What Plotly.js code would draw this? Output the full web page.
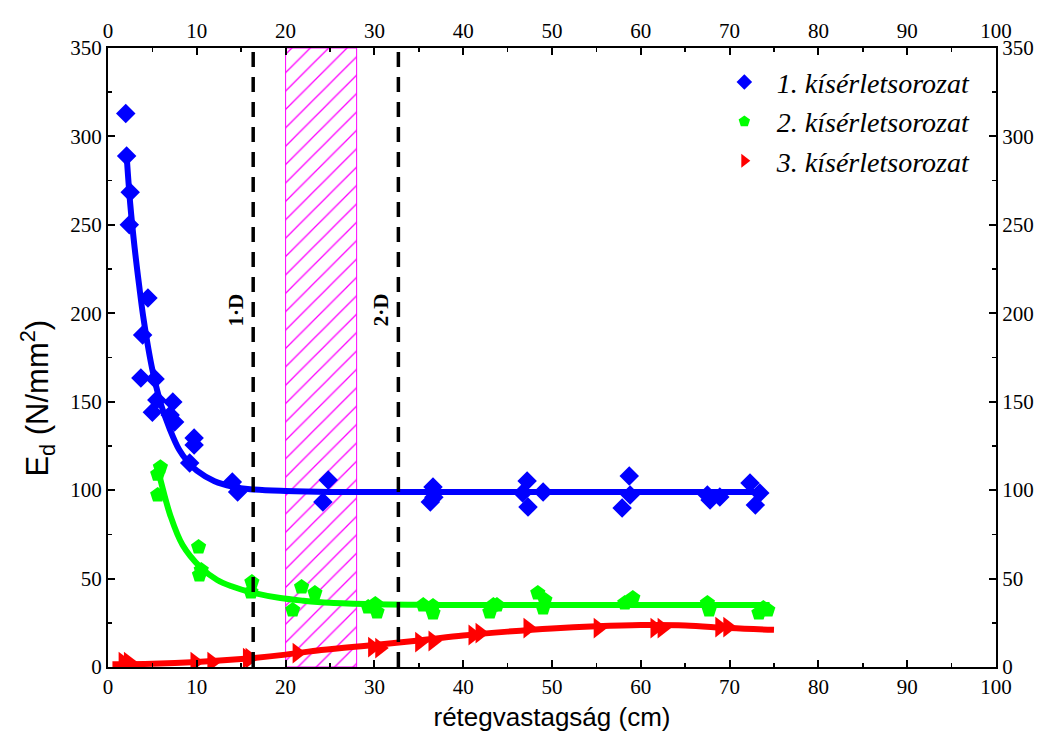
<!DOCTYPE html>
<html>
<head>
<meta charset="utf-8">
<script src="https://cdn.plot.ly/plotly-3.0.1.min.js"></script>
<style>html,body{margin:0;padding:0;background:#fff;}#chart{width:1050px;height:738px;}</style>
</head>
<body>
<div id="chart"></div>
<script>
// Series 1 (blue diamonds)
const s1x = [2.0,2.1,2.5,2.4,4.5,3.9,3.7,5.3,5.5,7.3,5.0,7.0,7.5,9.7,9.7,9.2,14.0,14.6,24.8,24.2,36.6,36.3,36.7,47.2,46.7,49.0,47.3,58.7,58.8,57.9,67.5,67.8,68.9,72.3,73.4,72.9];
const s1y = [313,289,268.5,250,208.6,187.7,163.4,162.8,150.9,149.8,144.1,142.5,138.5,129.5,125.5,115.3,104.6,98.9,105.7,93.3,101.8,93.3,96,105.1,98.4,98.9,90.4,108.0,97.2,89.9,97.2,94.4,96.1,104.0,98.4,91.6];
// Series 2 (green pentagons)
const s2x = [5.9,5.6,5.6,10.2,10.3,10.5,16.2,16.1,21.8,23.3,20.8,29.3,30.1,30.3,35.5,36.6,36.6,43.4,43.0,43.8,48.4,49.2,49.0,58.2,59.1,67.5,67.7,73.8,73.3,74.3];
const s2y = [113,109,97.2,67.8,52.0,54.8,48.0,42.4,45.2,41.8,32.2,33.9,35.6,31.1,35.0,34.5,30.5,35.0,31.1,35.0,41.8,37.9,33.4,36.2,39.0,36.2,32.2,33.4,30.5,32.2];
// Series 3 (red triangles)
const s3x = [1.7,2.3,9.8,11.7,15.7,16.0,21.3,29.8,30.6,35.1,36.6,41.1,41.9,47.3,55.2,61.6,62.4,68.9,69.8];
const s3y = [2.8,2.8,2.8,2.8,5.0,5.0,7.9,11.3,10.7,14.1,14.7,18.1,19.2,22.0,22.0,22.0,22.0,22.6,22.6];
// Fitted curves
const f1x = [2.1,2.5,3,3.5,4,5,6,7,8,9,10,12,14,16,20,25,30,40,50,60,73.5];
const f1y = [289,262,237,216,197,168,148,134,123,116,111,105,102,100.5,99.5,99,99,99,99,99,99];
const f2x = [5.7,6,7,8.4,10.4,12.3,14,16,19.4,22,25,30,35,40,50,60,74.5];
const f2y = [110,104,86,69,56.5,49.2,45.5,42.4,39,37.5,36.3,35.5,35.2,35,35,35,35];
const f3x = [0.5,5,10,15,20,24,30,35,40,45,50,55,60,65,70,75];
const f3y = [1.5,1.8,2.8,4.5,7,9.6,12.5,15,17.8,20,21.8,23,23.7,23.5,22,21];
// Reference lines and band
const dLines = [16.35, 32.7];
const dLabels = ['1·D', '2·D'];
const bandX = [20, 28];
const legendNames = ['1. kísérletsorozat', '2. kísérletsorozat', '3. kísérletsorozat'];
const xTitle = 'rétegvastagság (cm)';
const yTitle = 'E<sub>d</sub> (N/mm<sup>2</sup>)';

const blue = '#0000ff', green = '#00ff00', red = '#ff0000', mag = '#ff00ff';
const serif = 'Liberation Serif';
const sans = 'Liberation Sans';

const traces = [
  {x:[bandX[0],bandX[1],bandX[1],bandX[0],bandX[0]], y:[0,0,350,350,0], mode:'lines', fill:'toself',
   fillcolor:'rgba(255,255,255,0)', fillpattern:{shape:'/', fgcolor:mag, bgcolor:'rgba(255,255,255,0)', size:13, solidity:0.1},
   line:{color:mag, width:1}, showlegend:false, hoverinfo:'skip'},
  {x:f1x, y:f1y, mode:'lines', line:{color:blue, width:6, shape:'spline'}, showlegend:false},
  {x:f2x, y:f2y, mode:'lines', line:{color:green, width:6, shape:'spline'}, showlegend:false},
  {x:f3x, y:f3y, mode:'lines', line:{color:red, width:6, shape:'spline'}, showlegend:false},
  {x:s1x, y:s1y, mode:'markers', name:legendNames[0], marker:{symbol:'diamond', color:blue, size:15}},
  {x:s2x, y:s2y, mode:'markers', name:legendNames[1], marker:{symbol:'pentagon', color:green, size:16}},
  {x:s3x, y:s3y, mode:'markers', name:legendNames[2], marker:{symbol:'triangle-right', color:red, size:18}},
  {x:[0], y:[0], xaxis:'x2', yaxis:'y2', mode:'markers', marker:{opacity:0}, showlegend:false, hoverinfo:'skip'}
];

const axCommon = {
  range:[0,100], dtick:10, ticks:'inside', ticklen:7, tickwidth:2, tickcolor:'#000',
  showline:true, linewidth:2, linecolor:'#000', showgrid:false, zeroline:false,
  tickfont:{family:serif, size:21, color:'#000'},
  minor:{dtick:5, ticks:'inside', ticklen:4, tickwidth:1.5, tickcolor:'#000', showgrid:false}
};
const ayCommon = {
  range:[0,350], dtick:50, ticks:'inside', ticklen:7, tickwidth:2, tickcolor:'#000',
  showline:true, linewidth:2, linecolor:'#000', showgrid:false, zeroline:false,
  tickfont:{family:serif, size:21, color:'#000'},
  minor:{dtick:25, ticks:'inside', ticklen:4, tickwidth:1.5, tickcolor:'#000', showgrid:false}
};

const shapes = dLines.map(v => ({type:'line', xref:'x', yref:'paper', x0:v, x1:v, y0:0, y1:1,
  line:{color:'#000', width:3.5, dash:'15px,10px'}}));
const annotations = [
  {x:14.4, y:202, xref:'x', yref:'y', text:'<b>'+dLabels[0]+'</b>', textangle:-90, showarrow:false, font:{family:serif, size:21, color:'#000'}},
  {x:30.7, y:202, xref:'x', yref:'y', text:'<b>'+dLabels[1]+'</b>', textangle:-90, showarrow:false, font:{family:serif, size:21, color:'#000'}},
  {x:-0.079, y:0.435, xref:'paper', yref:'paper', text:yTitle, textangle:-90, showarrow:false,
   xanchor:'center', yanchor:'middle', font:{family:sans, size:31, color:'#000'}}
];

const layout = {
  width:1050, height:738,
  margin:{l:108, r:54, t:48, b:71},
  paper_bgcolor:'#fff', plot_bgcolor:'#fff',
  xaxis: Object.assign({}, axCommon, {title:{text:xTitle, font:{family:sans, size:26, color:'#000'}, standoff:10}}),
  xaxis2: Object.assign({}, axCommon, {overlaying:'x', side:'top', matches:'x'}),
  yaxis: Object.assign({}, ayCommon),
  yaxis2: Object.assign({}, ayCommon, {overlaying:'y', side:'right', matches:'y'}),
  legend:{x:0.68, y:0.985, xanchor:'left', yanchor:'top', bgcolor:'rgba(0,0,0,0)',
    font:{family:serif, size:28, color:'#000', style:'italic'}, itemsizing:'constant', itemwidth:55, tracegroupgap:0},
  shapes:shapes, annotations:annotations, showlegend:true
};

Plotly.newPlot('chart', traces, layout, {staticPlot:true});
</script>
</body>
</html>
